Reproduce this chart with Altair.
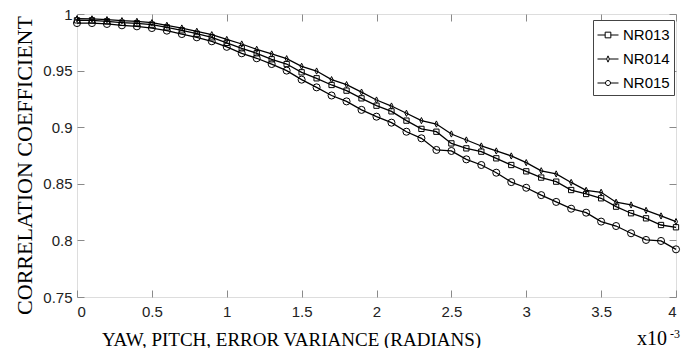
import altair as alt
import pandas as pd

x_vals = [0.0, 0.1, 0.2, 0.3, 0.4, 0.5, 0.6, 0.7, 0.8, 0.9,
          1.0, 1.1, 1.2, 1.3, 1.4, 1.5, 1.6, 1.7, 1.8, 1.9,
          2.0, 2.1, 2.2, 2.3, 2.4, 2.5, 2.6, 2.7, 2.8, 2.9,
          3.0, 3.1, 3.2, 3.3, 3.4, 3.5, 3.6, 3.7, 3.8, 3.9, 4.0]

nr013 = [0.9944, 0.9944, 0.9935, 0.9923, 0.9918, 0.9906, 0.9882, 0.9856, 0.9826, 0.9794,
         0.9745, 0.9697, 0.9653, 0.9600, 0.9558, 0.9485, 0.9432, 0.9373, 0.9323, 0.9255,
         0.9190, 0.9140, 0.9058, 0.8985, 0.8960, 0.8857, 0.8813, 0.8784, 0.8725, 0.8666,
         0.8610, 0.8555, 0.8519, 0.8445, 0.8410, 0.8372, 0.8298, 0.8240, 0.8195, 0.8136, 0.8116]

nr014 = [0.9958, 0.9957, 0.9950, 0.9941, 0.9935, 0.9923, 0.9900, 0.9876, 0.9847, 0.9817,
         0.9775, 0.9735, 0.9688, 0.9647, 0.9605, 0.9538, 0.9496, 0.9420, 0.9376, 0.9310,
         0.9240, 0.9187, 0.9123, 0.9058, 0.9028, 0.8940, 0.8887, 0.8834, 0.8790, 0.8746,
         0.8687, 0.8615, 0.8587, 0.8512, 0.8442, 0.8425, 0.8337, 0.8313, 0.8265, 0.8216, 0.8166]

nr015 = [0.9920, 0.9920, 0.9912, 0.9900, 0.9891, 0.9876, 0.9853, 0.9823, 0.9794, 0.9759,
         0.9710, 0.9653, 0.9609, 0.9558, 0.9500, 0.9420, 0.9352, 0.9280, 0.9228, 0.9153,
         0.9093, 0.9040, 0.8960, 0.8902, 0.8799, 0.8790, 0.8716, 0.8666, 0.8598, 0.8515,
         0.8465, 0.8400, 0.8340, 0.8280, 0.8245, 0.8166, 0.8127, 0.8063, 0.8004, 0.7995, 0.7921]

series_names = ["NR013", "NR014", "NR015"]
x_ticks = [0, 0.5, 1, 1.5, 2, 2.5, 3, 3.5, 4]
y_ticks = [0.75, 0.8, 0.85, 0.9, 0.95, 1]

rows = []
for name, vals in zip(series_names, [nr013, nr014, nr015]):
    for xv, yv in zip(x_vals, vals):
        rows.append({"series": name, "x": xv, "y": yv})
df = pd.DataFrame(rows)

xscale = alt.Scale(domain=[0, 4], nice=False)
yscale = alt.Scale(domain=[0.75, 1], nice=False, zero=False)

axis_gray = "#8a8a8a"
label_font = "Liberation Sans"
title_font = "Liberation Serif"

x_bottom = alt.Axis(values=x_ticks, labelExpr="'' + datum.value", grid=False, domain=False,
                    tickSize=alt.ExprRef("-7"), tickColor=axis_gray, labelPadding=14,
                    labelFont=label_font, labelFontSize=15, labelColor="#222",
                    title="YAW, PITCH, ERROR VARIANCE (RADIANS)", titleFont=title_font,
                    titleFontSize=19, titleFontWeight="normal", titleColor="black",
                    titleX=214, titleY=48, titleBaseline="alphabetic")
y_left = alt.Axis(values=y_ticks, labelExpr="'' + datum.value", grid=False, domain=False,
                  tickSize=alt.ExprRef("-7"), tickColor=axis_gray, labelPadding=12,
                  labelFont=label_font, labelFontSize=15, labelColor="#222",
                  title="CORRELATION COEFFICIENT", titleFont=title_font,
                  titleFontSize=22, titleFontWeight="normal", titleColor="black",
                  titleX=-53, titleY=151, titleBaseline="middle")
x_top = alt.Axis(orient="top", values=x_ticks, labels=False, grid=False, domain=False,
                 tickSize=alt.ExprRef("-7"), tickColor=axis_gray, title=None)
y_right = alt.Axis(orient="right", values=y_ticks, labels=False, grid=False, domain=False,
                   tickSize=alt.ExprRef("-7"), tickColor=axis_gray, title=None)

lines = alt.Chart(df).mark_line(color="black", strokeWidth=1.3).encode(
    x=alt.X("x:Q", scale=xscale, axis=x_bottom),
    y=alt.Y("y:Q", scale=yscale, axis=y_left),
    detail="series:N",
)

diamond_path = "M0,-1L0.5,0L0,1L-0.5,0Z"
points = alt.Chart(df).mark_point(filled=False, color="black", strokeWidth=1, opacity=1).encode(
    x=alt.X("x:Q", scale=xscale, axis=x_top),
    y=alt.Y("y:Q", scale=yscale, axis=y_right),
    shape=alt.Shape("series:N", scale=alt.Scale(domain=series_names,
                                                range=["square", diamond_path, "circle"]),
                    legend=None),
    size=alt.Size("series:N", scale=alt.Scale(domain=series_names, range=[28, 50, 24]),
                  legend=None),
)

legend_paths = [
    "M-1,0H-0.27M0.27,0H1M-0.27,-0.27H0.27V0.27H-0.27Z",
    "M-1,0H-0.13M0.13,0H1M0,-0.3L0.13,0L0,0.3L-0.13,0Z",
    "M-1,0H-0.24M0.24,0H1M-0.24,0A0.24,0.24,0,1,0,0.24,0A0.24,0.24,0,1,0,-0.24,0",
]
legend_layer = alt.Chart(df).mark_point(filled=False, color="black", opacity=0).encode(
    x=alt.X("x:Q", scale=xscale, axis=None),
    y=alt.Y("y:Q", scale=yscale, axis=None),
    shape=alt.Shape("series:N", scale=alt.Scale(domain=series_names, range=legend_paths),
                    legend=alt.Legend(title=None, orient="none", legendX=516, legendY=6,
                                      padding=4, strokeColor="#444", fillColor="white",
                                      symbolSize=441, symbolStrokeWidth=1,
                                      symbolStrokeColor="black", symbolOpacity=1,
                                      labelFont=label_font, labelFontSize=15,
                                      labelColor="black", labelOffset=4, rowPadding=5)),
)

exp_main = alt.Chart(pd.DataFrame({"t": ["x10"]})).mark_text(
    font=title_font, fontSize=20, align="left", baseline="alphabetic", color="black"
).encode(text="t:N", x=alt.value(560), y=alt.value(331))
exp_sup = alt.Chart(pd.DataFrame({"t": ["-3"]})).mark_text(
    font=title_font, fontSize=12, align="left", baseline="alphabetic", color="black"
).encode(text="t:N", x=alt.value(593), y=alt.value(324))

chart = alt.layer(lines, points, legend_layer, exp_main, exp_sup).resolve_scale(
    shape="independent", size="independent"
).resolve_axis(x="independent", y="independent").properties(
    width=599, height=283,
    autosize=alt.AutoSizeParams(type="none"),
    padding={"left": 69, "top": 6, "right": 7, "bottom": 51},
).configure_view(stroke=axis_gray, strokeWidth=1.5).configure(background="white")

chart.save("out.html", embed_options={"renderer": "svg", "actions": False})
